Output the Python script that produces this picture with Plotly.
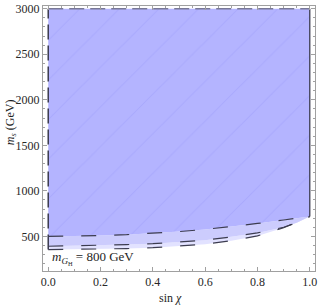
import plotly.graph_objects as go

# data
sin_chi = [0.0, 0.1, 0.2, 0.3, 0.4, 0.5, 0.6, 0.7, 0.8, 0.9, 0.95, 1.0]
ms_upper = [500, 503, 509, 519, 535, 553, 577, 606, 642, 680, 700, 718]
ms_middle = [392, 396, 403, 410, 420, 436, 458, 495, 538, 600, 650, 718]
ms_lower = [355, 357, 360, 366, 376, 394, 415, 452, 505, 595, 655, 718]
ms_top = 3000
x_ticks = [0.0, 0.2, 0.4, 0.6, 0.8, 1.0]
x_tick_labels = ["0.0", "0.2", "0.4", "0.6", "0.8", "1.0"]
y_ticks = [500, 1000, 1500, 2000, 2500, 3000]
y_tick_labels = ["500", "1000", "1500", "2000", "2500", "3000"]

serif = "Liberation Serif"
dark_fill = "rgb(180,180,255)"
mid_fill = "rgb(204,204,253)"
light_fill = "rgb(226,226,255)"
line_col = "rgb(60,60,80)"

fig = go.Figure()
fig.add_trace(go.Scatter(x=sin_chi, y=ms_lower, mode="lines", line=dict(width=0),
                         showlegend=False, hoverinfo="skip"))
fig.add_trace(go.Scatter(x=sin_chi, y=ms_middle, mode="lines", line=dict(width=0),
                         fill="tonexty", fillcolor=light_fill, showlegend=False, hoverinfo="skip"))
fig.add_trace(go.Scatter(x=sin_chi, y=ms_upper, mode="lines", line=dict(width=0),
                         fill="tonexty", fillcolor=mid_fill, showlegend=False, hoverinfo="skip"))
fig.add_trace(go.Scatter(x=sin_chi, y=[ms_top] * len(sin_chi), mode="lines", line=dict(width=0),
                         fill="tonexty", fillcolor=dark_fill,
                         fillpattern=dict(shape="/", bgcolor=dark_fill, fgcolor="rgb(160,160,250)",
                                          size=28, solidity=0.04),
                         showlegend=False, hoverinfo="skip"))

# boundary lines
for ys in (ms_upper, ms_middle, ms_lower):
    fig.add_trace(go.Scatter(x=sin_chi, y=ys, mode="lines",
                             line=dict(color=line_col, width=1.2, dash="15px,18px"),
                             showlegend=False, hoverinfo="skip"))
fig.add_trace(go.Scatter(x=[sin_chi[0], sin_chi[0]], y=[ms_lower[0], ms_top], mode="lines",
                         line=dict(color=line_col, width=1.5, dash="15px,6px"),
                         showlegend=False, hoverinfo="skip"))
fig.add_trace(go.Scatter(x=[sin_chi[0], sin_chi[-1]], y=[ms_top, ms_top], mode="lines",
                         line=dict(color="rgb(120,120,150)", width=1.5, dash="15px,6px"),
                         showlegend=False, hoverinfo="skip"))
fig.add_trace(go.Scatter(x=[sin_chi[-1], sin_chi[-1]], y=[ms_upper[-1], ms_top], mode="lines",
                         line=dict(color=line_col, width=1.3),
                         showlegend=False, hoverinfo="skip"))

axis_common = dict(showgrid=False, zeroline=False, showline=True, linecolor="rgb(160,160,160)",
                   linewidth=1, mirror="ticks", ticks="inside", ticklen=4, tickcolor="rgb(160,160,160)",
                   ticklabeloverflow="allow",
                   tickfont=dict(family=serif, size=12, color="rgb(40,40,40)"))

fig.update_xaxes(range=[-0.02, 1.02], tickvals=x_ticks, ticktext=x_tick_labels,
                 minor=dict(dtick=0.05, ticks="inside", ticklen=2, tickcolor="rgb(160,160,160)"),
                 **axis_common)
fig.update_yaxes(range=[120, 3030], tickvals=y_ticks, ticktext=y_tick_labels,
                 minor=dict(dtick=100, ticks="inside", ticklen=2, tickcolor="rgb(160,160,160)"),
                 **axis_common)

fig.add_annotation(text="<i>m</i><sub><i>G</i><sub>H</sub></sub> = 800 GeV", x=0.005, y=262,
                   xref="x", yref="y", xanchor="left", yanchor="middle", showarrow=False,
                   font=dict(family=serif, size=13, color="rgb(30,30,30)"))
fig.add_annotation(text="<i>m</i><sub><i>s</i></sub> (GeV)", x=-0.12, y=0.563, xref="paper", yref="paper",
                   textangle=-90, showarrow=False, xanchor="center", yanchor="middle",
                   font=dict(family=serif, size=12, color="rgb(30,30,30)"))
fig.add_annotation(text="sin <i>χ</i>", x=0.47, y=-0.10, xref="paper", yref="paper",
                   showarrow=False, xanchor="center", yanchor="middle",
                   font=dict(family=serif, size=12, color="rgb(30,30,30)"))

fig.update_layout(width=319, height=305, margin=dict(l=43, r=2, t=4, b=34),
                  plot_bgcolor="white", paper_bgcolor="white")

fig.write_html("out.html", config={"displayModeBar": False},
               post_script="document.body.style.margin='0';document.body.style.overflow='hidden';")
